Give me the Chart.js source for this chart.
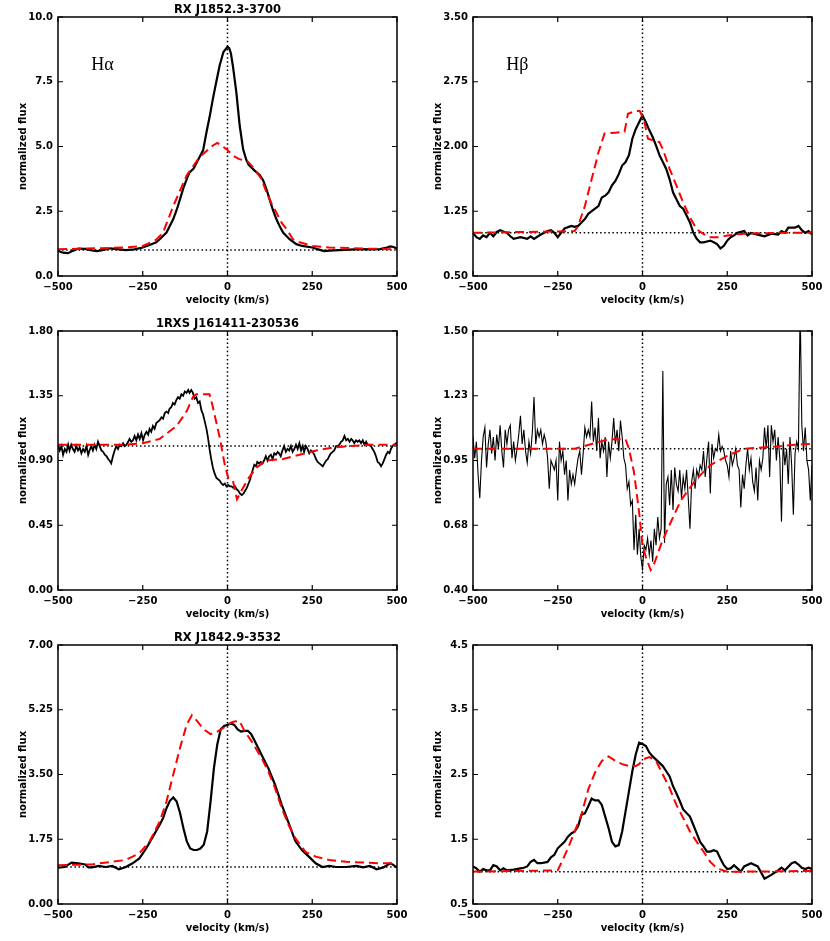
<!DOCTYPE html>
<html>
<head>
<meta charset="utf-8">
<script src="https://cdn.jsdelivr.net/npm/chart.js@4.4.1/dist/chart.umd.min.js"></script>
<style>
  body { margin: 0; background: #fff; }
  #wrap { position: relative; width: 830px; height: 941px; }
  canvas { position: absolute; }
</style>
</head>
<body>
<div id="wrap">
  <canvas id="c1" width="415" height="312" style="left:0;top:0"></canvas>
  <canvas id="c2" width="415" height="312" style="left:415px;top:0"></canvas>
  <canvas id="c3" width="415" height="312" style="left:0;top:312px"></canvas>
  <canvas id="c4" width="415" height="312" style="left:415px;top:312px"></canvas>
  <canvas id="c5" width="415" height="317" style="left:0;top:624px"></canvas>
  <canvas id="c6" width="415" height="317" style="left:415px;top:624px"></canvas>
</div>
<script>
// velocity ticks shared by all panels
const xTicks = [-500, -250, 0, 250, 500];

// --- RX J1852.3-3700, H-alpha ---
const ha1Vel = [-500,-485,-470,-455,-440,-420,-400,-385,-365,-345,-320,-300,-275,-250,-230,-210,-200,-180,-160,-150,-140,-130,-120,-112,-100,-90,-82,-72,-62,-52,-43,-33,-23,-12,0,5,10,16,26,36,46,55,62,80,95,105,115,124,134,144,154,164,183,203,220,250,270,285,300,330,360,390,420,450,470,480,490,500];
const ha1Obs = [0.97,0.9,0.88,0.98,1.06,1.05,0.99,0.96,1.01,1.07,1.03,1.0,1.03,1.1,1.2,1.3,1.42,1.68,2.2,2.55,2.97,3.4,3.75,4.0,4.15,4.4,4.6,4.85,5.55,6.2,6.85,7.5,8.14,8.65,8.85,8.8,8.6,8.1,7.1,5.8,4.9,4.5,4.3,4.07,3.9,3.7,3.35,2.97,2.55,2.2,1.92,1.68,1.42,1.23,1.16,1.1,1.02,0.96,0.98,1.0,1.02,1.04,1.03,1.04,1.1,1.14,1.12,1.05];
const ha1ModVel = [-500,-300,-250,-210,-190,-160,-121,-82,-43,-30,-3,16,33,60,80,100,115,130,144,160,174,193,213,252,300,400,500];
const ha1Mod = [1.03,1.1,1.16,1.4,1.68,2.7,3.87,4.6,5.04,5.14,4.9,4.65,4.52,4.42,4.13,3.75,3.23,2.8,2.45,2.05,1.81,1.42,1.3,1.16,1.1,1.06,1.03];
const ha1Ticks = [0, 2.5, 5, 7.5, 10];
const ha1Labels = ['0.0', '2.5', '5.0', '7.5', '10.0'];

// --- RX J1852.3-3700, H-beta ---
const hb1Vel = [-500,-490,-480,-470,-460,-450,-440,-430,-420,-400,-390,-380,-360,-340,-330,-320,-300,-280,-270,-260,-250,-240,-230,-210,-200,-190,-180,-170,-160,-140,-130,-120,-110,-100,-90,-80,-70,-60,-50,-40,-30,-20,-10,0,10,20,30,40,50,60,70,80,90,100,110,120,130,140,150,160,170,180,190,200,210,220,230,240,250,260,270,280,300,310,320,340,360,380,400,410,420,430,450,460,470,480,490,500];
const hb1Obs = [1.0,0.95,0.93,0.97,0.95,1.0,0.96,1.01,1.03,1.0,0.96,0.93,0.95,0.93,0.96,0.93,0.98,1.02,1.03,1.0,0.95,1.0,1.05,1.08,1.07,1.08,1.12,1.16,1.22,1.28,1.31,1.41,1.43,1.47,1.55,1.6,1.68,1.78,1.82,1.9,2.09,2.2,2.28,2.36,2.28,2.19,2.11,2.01,1.9,1.82,1.74,1.62,1.47,1.39,1.31,1.28,1.2,1.12,1.0,0.93,0.89,0.89,0.9,0.91,0.89,0.87,0.82,0.85,0.91,0.95,0.97,1.0,1.02,0.97,1.0,0.98,0.96,0.99,0.98,1.02,1.0,1.06,1.06,1.08,1.03,1.0,1.02,0.98];
const hb1ModVel = [-500,-200,-190,-170,-150,-130,-112,-80,-53,-43,-20,-8,5,16,50,60,80,100,120,140,160,183,195,230,250,300,400,500];
const hb1Mod = [1.0,1.02,1.08,1.31,1.62,1.93,2.15,2.16,2.17,2.38,2.41,2.41,2.3,2.09,2.05,1.97,1.74,1.55,1.35,1.18,1.04,0.98,0.95,0.95,0.97,0.99,1.0,1.0];
const hb1Ticks = [0.5, 1.25, 2.0, 2.75, 3.5];
const hb1Labels = ['0.50', '1.25', '2.00', '2.75', '3.50'];

// --- 1RXS J161411-230536, H-alpha ---
const ha2Vel = [
  -500,-495,-490,-485,-480,-475,-470,-466,-461,-456,
  -451,-446,-441,-436,-431,-426,-421,-416,-411,-407,
  -402,-397,-392,-387,-382,-377,-372,-367,-362,-357,
  -352,-348,-343,-338,-333,-328,-323,-318,-313,-308,
  -303,-298,-293,-289,-284,-279,-274,-269,-264,-259,
  -254,-249,-244,-239,-234,-230,-225,-220,-215,-210,
  -205,-200,-195,-190,-185,-180,-175,-171,-166,-161,
  -156,-151,-146,-141,-136,-131,-126,-121,-116,-112,
  -107,-102,-97,-92,-87,-82,-77,-72,-67,-62,
  -57,-53,-48,-43,
  -38,-33,-28,-23,-18,-13,-8,-3,2,7,12,17,22,27,32,37,42,47,52,57,62,67,70,
  74,79,84,88,93,98,103,108,113,118,
  123,128,133,138,143,148,152,157,162,167,
  172,177,182,187,192,197,202,207,212,217,
  222,226,231,236,241,246,251,256,261,266,
  271,276,281,286,291,296,300,305,310,315,
  320,325,330,335,340,345,350,355,360,365,
  369,374,379,384,389,394,399,404,409,413,
  418,423,428,433,438,443,448,453,458,463,
  468,473,478,482,487,492,497,500];
const ha2Obs = [
  1.01,0.97,1.0,0.94,0.98,0.96,1.01,0.97,1.01,0.98,
  0.96,1.0,0.97,0.99,0.95,0.98,0.96,1.0,0.94,0.97,
  1.0,0.97,1.01,0.98,1.03,1.0,0.97,0.96,0.94,0.93,
  0.91,0.9,0.88,0.93,0.97,1.0,0.98,1.01,1.0,1.02,
  1.0,1.01,1.03,1.05,1.03,1.04,1.07,1.04,1.08,1.05,
  1.09,1.04,1.08,1.1,1.08,1.12,1.1,1.14,1.12,1.16,
  1.17,1.18,1.2,1.19,1.23,1.24,1.23,1.26,1.27,1.3,
  1.29,1.32,1.34,1.33,1.36,1.35,1.38,1.37,1.39,1.37,
  1.39,1.37,1.33,1.34,1.3,1.31,1.25,1.22,1.17,1.12,
  1.05,0.98,0.91,0.85,
  0.81,0.78,0.77,0.76,0.74,0.73,0.74,0.72,0.73,0.72,0.72,0.71,0.72,0.7,0.69,0.67,0.66,0.67,0.69,0.71,0.74,0.77,0.8,
  0.83,0.87,0.86,0.89,0.88,0.89,0.88,0.9,0.93,0.9,
  0.93,0.94,0.91,0.95,0.94,0.96,0.95,0.93,0.97,1.0,
  0.96,0.98,0.97,1.0,0.96,0.98,1.01,0.98,1.02,0.97,
  1.0,0.96,1.0,0.98,0.95,0.97,0.96,0.94,0.91,0.89,
  0.88,0.87,0.86,0.88,0.9,0.91,0.93,0.95,0.96,0.97,
  1.0,1.0,1.01,1.03,1.04,1.07,1.04,1.05,1.03,1.05,
  1.04,1.02,1.04,1.03,1.04,1.02,1.04,1.01,1.03,1.01,
  1.01,1.0,0.98,0.96,0.93,0.89,0.88,0.86,0.88,0.91,
  0.94,0.96,0.95,0.98,1.0,1.01,1.02,1.0];
const ha2ModVel = [-500,-300,-250,-200,-150,-121,-102,-92,-53,-43,-23,-8,2,16,28,41,60,85,114,164,213,262,311,360,420,500];
const ha2Mod = [1.01,1.01,1.02,1.05,1.14,1.24,1.34,1.36,1.36,1.27,1.06,0.87,0.78,0.76,0.63,0.69,0.77,0.85,0.9,0.91,0.94,0.97,0.99,1.0,1.01,1.01];
const ha2Ticks = [0, 0.45, 0.9, 1.35, 1.8];
const ha2Labels = ['0.00', '0.45', '0.90', '1.35', '1.80'];

// --- 1RXS J161411-230536, H-beta (noisy) ---
const hb2Vel = [
  -500,-495,-490,-485,-480,-475,-470,-465,-460,-455,
  -450,-445,-440,-435,-430,-425,-420,-415,-410,-405,
  -400,-395,-390,-385,-380,-375,-370,-365,-360,-355,
  -350,-345,-340,-335,-330,-325,-320,-315,-310,-305,
  -300,-295,-290,-285,-280,-275,-270,-265,-260,-255,
  -250,-245,-240,-235,-230,-225,-220,-215,-210,-205,
  -200,-195,-190,-185,-180,-175,-170,-165,-160,-155,
  -150,-145,-140,-135,-130,-125,-120,-115,-110,-105,
  -100,-95,-90,-85,-80,-75,-70,-65,-60,-55,
  -50,-45,-40,-35,-30,-25,-20,-15,-10,-5,
  0,5,10,15,20,25,30,35,40,45,
  50,55,60,65,70,75,80,85,90,95,
  100,105,110,115,120,125,130,135,140,145,
  150,155,160,165,170,175,
  180,185,190,195,200,205,210,215,220,225,
  230,235,240,245,250,255,260,265,270,275,
  280,285,290,295,300,305,310,315,320,325,
  330,335,340,345,350,355,360,365,370,375,
  380,385,390,395,400,405,410,415,420,425,
  430,435,440,445,450,455,460,465,470,475,
  480,485,490,495,500];
const hb2Obs = [
  1.05,0.96,1.03,0.89,0.79,0.95,1.05,1.09,0.92,1.02,
  1.08,0.98,1.05,0.95,1.06,1.0,1.1,0.99,0.92,1.08,
  1.02,1.08,1.1,0.96,1.03,0.95,1.0,1.06,1.14,1.02,
  1.08,0.99,0.94,1.03,0.98,1.07,1.22,1.02,1.08,1.05,
  1.08,1.02,1.06,1.03,0.96,0.83,0.95,0.93,0.91,0.95,
  0.78,1.03,0.95,0.99,0.89,0.95,0.78,0.91,0.85,0.89,
  0.85,0.91,0.96,0.99,0.89,0.98,1.09,1.05,1.08,1.05,
  1.2,1.03,1.09,0.99,1.13,0.96,1.03,0.99,1.05,0.88,
  1.03,0.96,1.03,1.13,1.02,1.08,0.99,1.12,1.05,0.96,
  0.93,0.83,0.86,0.76,0.78,0.57,0.72,0.55,0.66,0.54,
  0.49,0.59,0.57,0.62,0.55,0.61,0.52,0.66,0.59,0.71,
  0.62,0.66,1.33,0.6,0.85,0.88,0.76,0.91,0.74,0.92,
  0.85,0.82,0.91,0.79,0.88,0.83,0.91,0.79,0.66,0.86,
  0.91,0.83,0.91,0.88,0.93,0.91,
  0.99,0.88,0.96,1.03,0.81,1.02,0.96,1.0,0.99,1.06,
  0.99,1.01,0.99,0.95,0.93,0.88,0.99,0.93,0.96,1.0,
  0.93,0.91,0.75,0.89,0.83,0.93,1.0,0.91,0.96,0.86,
  0.82,0.92,0.78,0.95,0.91,0.96,1.09,1.0,1.1,0.88,
  1.1,1.03,1.08,0.95,1.05,0.96,0.69,1.03,0.93,1.0,
  0.85,1.05,0.93,0.72,0.98,1.03,1.0,1.6,1.1,0.99,
  1.09,0.95,0.91,0.78,0.93];
const hb2ModVel = [-500,-300,-200,-150,-100,-50,-40,-25,-10,0,10,24,34,59,84,113,148,172,200,250,300,400,480,500];
const hb2Mod = [1.0,1.0,1.0,1.02,1.04,1.04,1.0,0.9,0.73,0.59,0.54,0.485,0.51,0.61,0.69,0.78,0.85,0.89,0.93,0.97,1.0,1.01,1.02,1.02];
const hb2Ticks = [0.4, 0.675, 0.95, 1.225, 1.5];
const hb2Labels = ['0.40', '0.68', '0.95', '1.23', '1.50'];

// --- RX J1842.9-3532, H-alpha ---
const ha3Vel = [-500,-480,-460,-440,-420,-410,-400,-380,-360,-340,-330,-320,-300,-280,-260,-240,-220,-200,-190,-180,-170,-160,-150,-140,-130,-120,-110,-100,-90,-80,-70,-60,-50,-40,-30,-20,-10,0,10,20,30,40,50,60,70,80,100,120,140,160,180,200,220,240,260,280,300,320,350,380,400,420,440,460,480,490,500];
const ha3Obs = [0.98,1.0,1.12,1.1,1.07,0.99,0.99,1.03,1.0,1.03,0.98,0.94,1.0,1.1,1.23,1.5,1.82,2.14,2.32,2.59,2.79,2.88,2.77,2.46,2.05,1.69,1.5,1.46,1.46,1.5,1.6,1.96,2.77,3.68,4.32,4.72,4.81,4.84,4.88,4.84,4.72,4.66,4.68,4.68,4.59,4.41,4.04,3.68,3.23,2.68,2.2,1.7,1.45,1.28,1.1,1.0,1.03,1.0,1.0,1.03,0.99,1.03,0.94,0.99,1.1,1.05,0.98];
const ha3ModVel = [-500,-400,-300,-260,-230,-200,-180,-160,-140,-120,-105,-90,-70,-50,-30,-10,10,20,35,50,70,100,120,140,160,180,200,230,260,300,350,400,450,480,500];
const ha3Mod = [1.05,1.07,1.19,1.37,1.69,2.23,2.77,3.5,4.22,4.86,5.1,4.95,4.72,4.59,4.66,4.77,4.9,4.93,4.95,4.68,4.41,3.95,3.59,3.14,2.59,2.14,1.78,1.41,1.28,1.19,1.14,1.12,1.1,1.1,1.05];
const ha3Ticks = [0, 1.75, 3.5, 5.25, 7];
const ha3Labels = ['0.00', '1.75', '3.50', '5.25', '7.00'];

// --- RX J1842.9-3532, H-beta ---
const hb3Vel = [-500,-490,-480,-470,-460,-450,-440,-430,-420,-410,-400,-380,-360,-350,-340,-330,-320,-310,-300,-290,-280,-270,-260,-250,-240,-230,-220,-210,-200,-190,-180,-170,-160,-150,-140,-130,-120,-110,-100,-90,-80,-70,-60,-50,-40,-30,-20,-10,0,10,20,30,40,50,60,70,80,90,100,110,120,140,150,160,170,180,190,200,210,220,230,240,250,260,270,280,290,300,320,340,360,380,400,410,420,440,450,460,470,480,490,500];
const hb3Obs = [1.08,1.05,1.0,1.04,1.02,1.02,1.1,1.08,1.02,1.05,1.02,1.03,1.05,1.06,1.08,1.15,1.18,1.13,1.13,1.14,1.15,1.22,1.26,1.36,1.41,1.46,1.54,1.59,1.62,1.7,1.88,1.9,2.01,2.13,2.1,2.1,2.03,1.85,1.67,1.46,1.39,1.41,1.62,1.93,2.24,2.55,2.81,2.99,2.97,2.94,2.84,2.78,2.73,2.68,2.63,2.55,2.47,2.32,2.21,2.09,1.96,1.85,1.72,1.59,1.46,1.39,1.31,1.31,1.33,1.31,1.2,1.1,1.04,1.05,1.1,1.05,1.0,1.08,1.13,1.08,0.89,0.95,1.02,1.06,1.02,1.13,1.15,1.11,1.06,1.04,1.06,1.04];
const hb3ModVel = [-500,-250,-240,-220,-200,-180,-160,-140,-120,-100,-80,-60,-40,-20,-10,0,20,40,60,80,100,120,140,160,180,200,220,250,300,500];
const hb3Mod = [1.0,1.02,1.13,1.36,1.62,1.88,2.27,2.53,2.71,2.78,2.71,2.66,2.63,2.63,2.66,2.73,2.77,2.71,2.5,2.29,2.03,1.83,1.62,1.46,1.31,1.15,1.05,1.0,1.0,1.01];
const hb3Ticks = [0.5, 1.5, 2.5, 3.5, 4.5];
const hb3Labels = ['0.5', '1.5', '2.5', '3.5', '4.5'];

Chart.defaults.font.family = '"DejaVu Sans", sans-serif';
Chart.defaults.font.size = 10;
Chart.defaults.font.weight = 'bold';
Chart.defaults.color = '#000';

const xy = (vel, flux) => vel.map((v, i) => ({ x: v, y: flux[i] }));
const fmtVel = v => (v < 0 ? '\u2212' + Math.abs(v) : String(v));

// IDL-style box: frame, inward ticks on all four sides, title and line label
const idlFrame = {
    id: 'idlFrame',
    afterDatasetsDraw(chart, args, opts) {
        const { ctx, chartArea: a, scales: { x, y } } = chart;
        ctx.save();
        ctx.strokeStyle = '#000';
        ctx.lineWidth = 1.2;
        ctx.beginPath();
        x.ticks.forEach(t => {
            const px = x.getPixelForValue(t.value);
            ctx.moveTo(px, a.bottom); ctx.lineTo(px, a.bottom - 5);
            ctx.moveTo(px, a.top); ctx.lineTo(px, a.top + 5);
        });
        y.ticks.forEach(t => {
            const py = y.getPixelForValue(t.value);
            ctx.moveTo(a.left, py); ctx.lineTo(a.left + 5, py);
            ctx.moveTo(a.right, py); ctx.lineTo(a.right - 5, py);
        });
        ctx.stroke();
        ctx.lineWidth = 1.5;
        ctx.strokeRect(a.left, a.top, a.right - a.left, a.bottom - a.top);
        ctx.fillStyle = '#000';
        if (opts.title) {
            ctx.font = 'bold 11.5px "DejaVu Sans"';
            ctx.textAlign = 'center';
            ctx.textBaseline = 'alphabetic';
            ctx.fillText(opts.title, (a.left + a.right) / 2, a.top - 4);
        }
        if (opts.line) {
            ctx.font = '18px "Liberation Serif"';
            ctx.textAlign = 'left';
            ctx.textBaseline = 'alphabetic';
            ctx.fillText(opts.line, x.getPixelForValue(opts.lineAt[0]), y.getPixelForValue(opts.lineAt[1]));
        }
        ctx.restore();
    }
};

function panel(id, p) {
    const yMin = p.yTicks[0];
    const yMax = p.yTicks[p.yTicks.length - 1];
    return new Chart(document.getElementById(id), {
        type: 'line',
        data: {
            datasets: [
                { data: xy(p.modVel, p.mod), borderColor: '#ff0000', borderWidth: 2, borderDash: [9, 5], pointRadius: 0, tension: 0, clip: 0 },
                { data: xy(p.vel, p.obs), borderColor: '#000', borderWidth: p.obsWidth, pointRadius: 0, tension: 0, clip: 0 },
                { data: [{ x: -500, y: 1 }, { x: 500, y: 1 }], borderColor: '#000', borderWidth: 1.5, borderDash: [1.5, 2.6], pointRadius: 0, clip: 0 },
                { data: [{ x: 0, y: yMin }, { x: 0, y: yMax }], borderColor: '#000', borderWidth: 1.5, borderDash: [1.5, 2.6], pointRadius: 0, clip: 0 }
            ]
        },
        options: {
            responsive: false,
            animation: false,
            devicePixelRatio: 1,
            events: [],
            layout: { padding: { left: 0, top: p.padTop, right: 18, bottom: 0 } },
            plugins: {
                legend: { display: false },
                tooltip: { enabled: false },
                idlFrame: { title: p.title, line: p.line, lineAt: p.lineAt }
            },
            scales: {
                x: {
                    type: 'linear', min: -500, max: 500,
                    afterBuildTicks: s => { s.ticks = xTicks.map(v => ({ value: v })); },
                    afterFit: s => { s.height = p.xHeight; },
                    grid: { display: false, drawTicks: false },
                    border: { display: false },
                    ticks: { autoSkip: false, maxRotation: 0, padding: 5, callback: v => fmtVel(v) },
                    title: { display: true, text: 'velocity (km/s)', padding: { top: 0, bottom: p.xHeight - 30 } }
                },
                y: {
                    type: 'linear', min: yMin, max: yMax,
                    afterBuildTicks: s => { s.ticks = p.yTicks.map(v => ({ value: v })); },
                    afterFit: s => { s.width = 58; },
                    grid: { display: false, drawTicks: false },
                    border: { display: false },
                    ticks: { autoSkip: false, padding: 5, callback: (v, i) => p.yLabels[i] },
                    title: { display: true, text: 'normalized flux', padding: { top: 17, bottom: 0 } }
                }
            }
        },
        plugins: [idlFrame]
    });
}

panel('c1', { vel: ha1Vel, obs: ha1Obs, modVel: ha1ModVel, mod: ha1Mod, yTicks: ha1Ticks, yLabels: ha1Labels,
    obsWidth: 2.2, padTop: 17, xHeight: 36, title: 'RX J1852.3-3700', line: 'H\u03b1', lineAt: [-402, 7.97] });
panel('c2', { vel: hb1Vel, obs: hb1Obs, modVel: hb1ModVel, mod: hb1Mod, yTicks: hb1Ticks, yLabels: hb1Labels,
    obsWidth: 2.2, padTop: 17, xHeight: 36, line: 'H\u03b2', lineAt: [-402, 2.89] });
panel('c3', { vel: ha2Vel, obs: ha2Obs, modVel: ha2ModVel, mod: ha2Mod, yTicks: ha2Ticks, yLabels: ha2Labels,
    obsWidth: 1.8, padTop: 19, xHeight: 34, title: '1RXS J161411-230536' });
panel('c4', { vel: hb2Vel, obs: hb2Obs, modVel: hb2ModVel, mod: hb2Mod, yTicks: hb2Ticks, yLabels: hb2Labels,
    obsWidth: 1.1, padTop: 19, xHeight: 34 });
panel('c5', { vel: ha3Vel, obs: ha3Obs, modVel: ha3ModVel, mod: ha3Mod, yTicks: ha3Ticks, yLabels: ha3Labels,
    obsWidth: 2.2, padTop: 21, xHeight: 37, title: 'RX J1842.9-3532' });
panel('c6', { vel: hb3Vel, obs: hb3Obs, modVel: hb3ModVel, mod: hb3Mod, yTicks: hb3Ticks, yLabels: hb3Labels,
    obsWidth: 2.2, padTop: 21, xHeight: 37 });
</script>
</body>
</html>
